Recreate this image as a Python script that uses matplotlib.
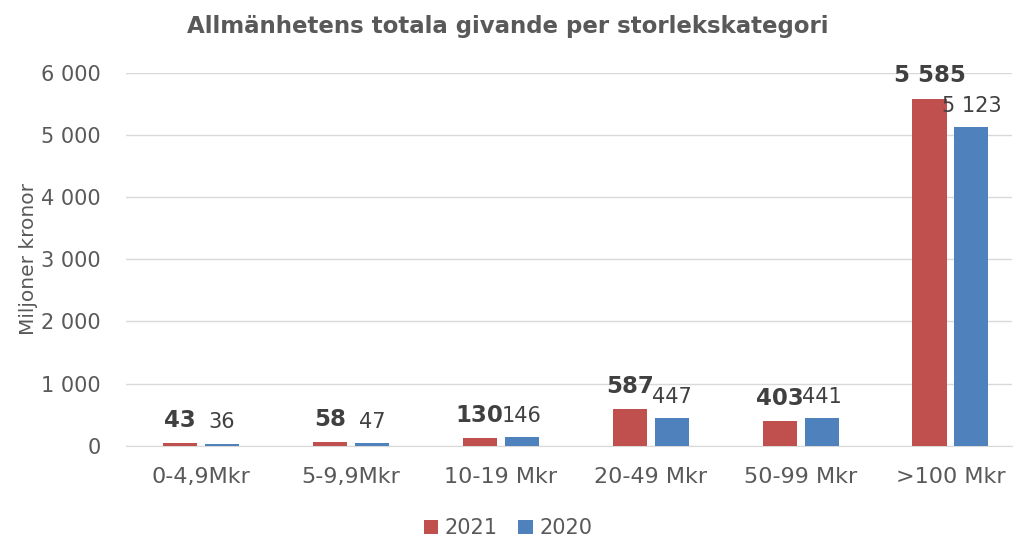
import numpy as np
import matplotlib.pyplot as plt

# --- Dados ---
kategorier = ['0-4,9Mkr', '5-9,9Mkr', '10-19 Mkr', '20-49 Mkr', '50-99 Mkr', '>100 Mkr']
givande_2021 = [43, 58, 130, 587, 403, 5585]
givande_2020 = [36, 47, 146, 447, 441, 5123]

grå = '#595959'
röd = '#C0504D'
blå = '#4F81BD'

def fmt(v):
    return f'{v:,.0f}'.replace(',', ' ')

fig = plt.figure(figsize=(10.16, 5.43), dpi=100)
ax = fig.add_axes([0.124, 0.179, 0.872, 0.687])

x = np.arange(len(kategorier))
b = 0.227
off = 0.14
s21 = ax.bar(x - off, givande_2021, b, color=röd, label='2021', zorder=3)
s20 = ax.bar(x + off, givande_2020, b, color=blå, label='2020', zorder=3)

for rect, v in zip(s21, givande_2021):
    ax.annotate(fmt(v), (rect.get_x() + rect.get_width() / 2, v), xytext=(0, 8),
                textcoords='offset points', ha='center', va='bottom',
                fontsize=16.5, fontweight='bold', color='#404040')
for rect, v in zip(s20, givande_2020):
    ax.annotate(fmt(v), (rect.get_x() + rect.get_width() / 2, v), xytext=(0, 8),
                textcoords='offset points', ha='center', va='bottom',
                fontsize=15, color='#404040')

ax.set_xlim(-0.5, 5.41)
ax.set_ylim(0, 6000)
ax.set_yticks(range(0, 6001, 1000))
ax.set_yticklabels([fmt(v) for v in range(0, 6001, 1000)])
ax.set_xticks(x)
ax.set_xticklabels(kategorier)
ax.tick_params(axis='y', length=0, labelsize=15, colors=grå, pad=18)
ax.tick_params(axis='x', length=0, labelsize=16, colors=grå, pad=15)
ax.grid(axis='y', color='#D9D9D9', linewidth=1, zorder=0)
for sp in ['top', 'right', 'left']:
    ax.spines[sp].set_visible(False)
ax.spines['bottom'].set_color('#D9D9D9')

ax.set_ylabel('Miljoner kronor', fontsize=14.5, color=grå, labelpad=2)
fig.text(0.5, 0.952, 'Allmänhetens totala givande per storlekskategori', ha='center', va='center',
         fontsize=16.5, fontweight='bold', color=grå)

fig.legend(handles=[s21, s20], loc='center', bbox_to_anchor=(0.5, 0.027), ncol=2, frameon=False,
           fontsize=15, handlelength=0.7, handleheight=0.7, handletextpad=0.3, columnspacing=1.0,
           labelcolor=grå)

plt.savefig('out.png', dpi=100)
